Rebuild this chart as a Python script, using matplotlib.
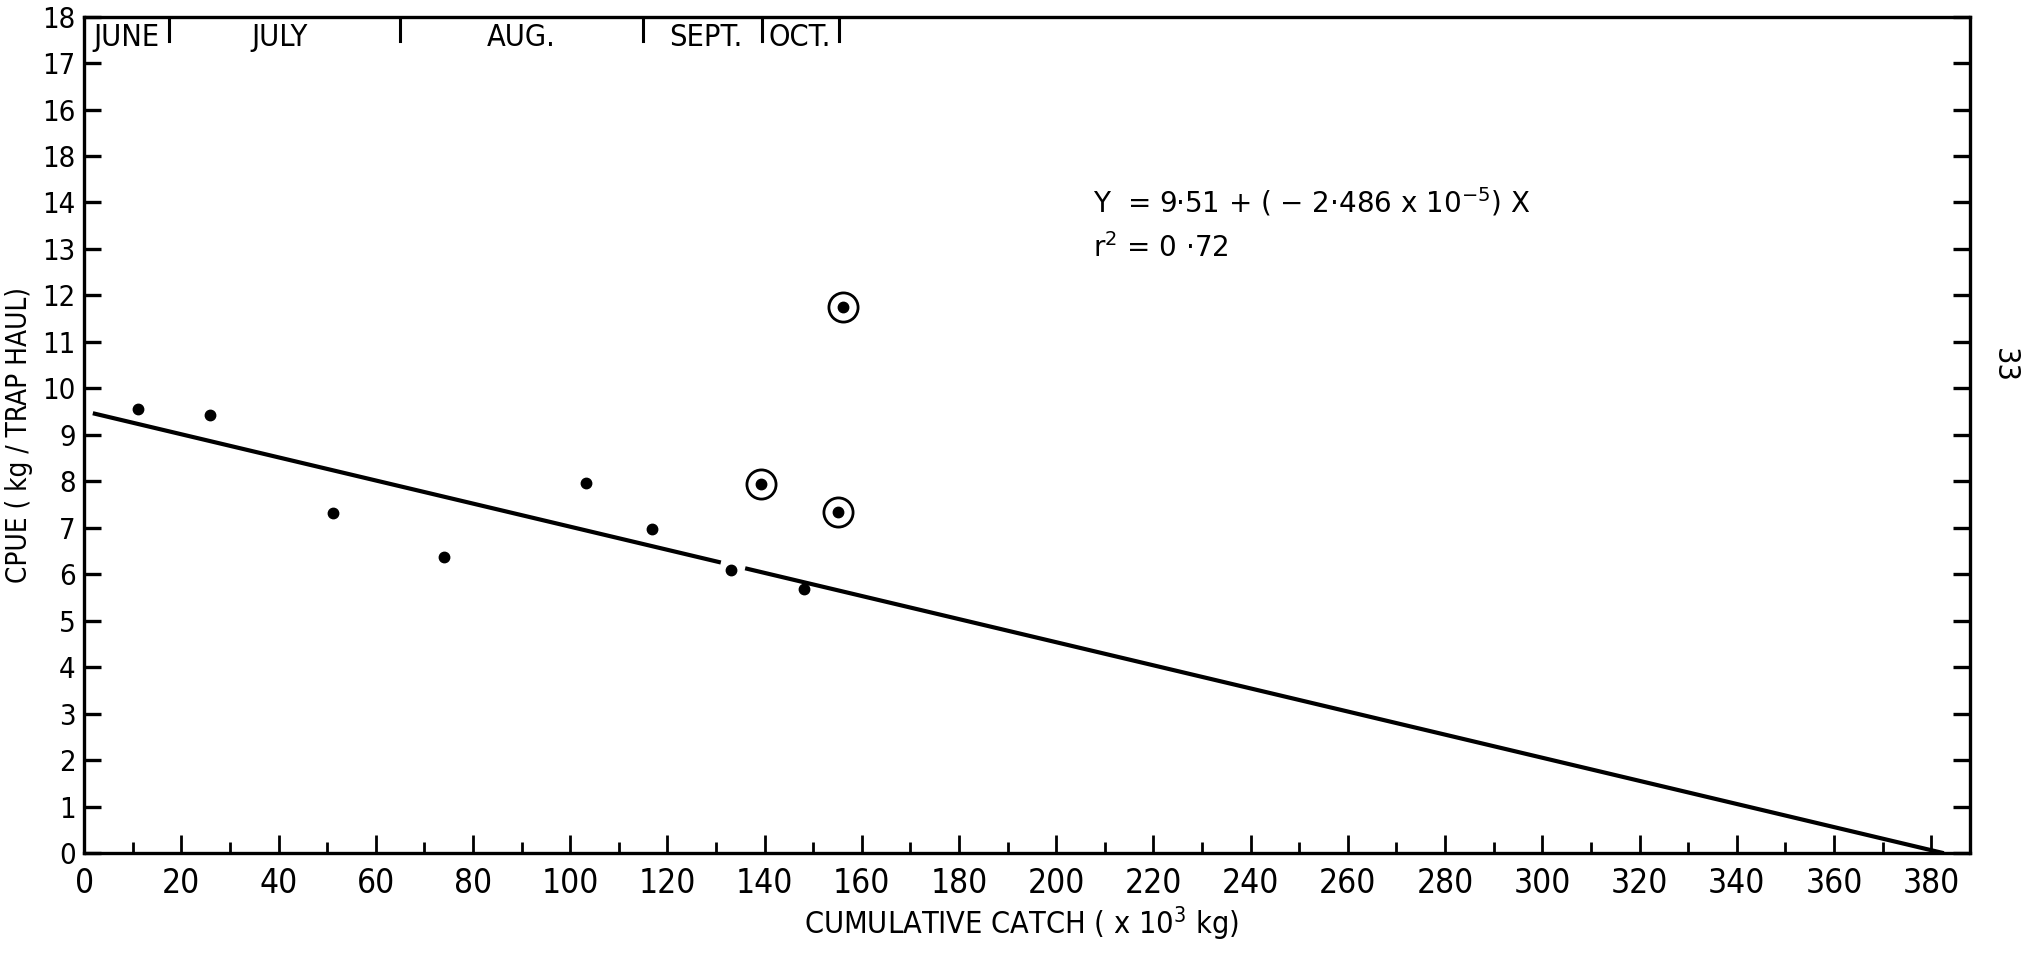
import matplotlib
matplotlib.use("Agg")
import matplotlib.pyplot as plt
from matplotlib import font_manager as fm
import numpy as np

# ---------------- data ----------------
catch_x = [11.1, 25.9, 51.3, 74.0, 103.3, 116.8, 133.0, 148.2]
cpue_y = [9.56, 9.43, 7.31, 6.37, 7.96, 6.98, 6.10, 5.69]
circled_x = [139.2, 155.1, 156.2]
circled_y = [7.95, 7.34, 11.75]

intercept = 9.51
slope_per_1000kg = -2.486e-5 * 1000
line_segments = [(1.8, 131.0), (136.0, 382.6)]

month_names = ["JUNE", "JULY", "AUG.", "SEPT.", "OCT."]
month_label_x = [2.0, 40.3, 90.0, 128.0, 147.3]
month_dividers = [17.5, 65.0, 115.0, 139.5, 155.3]

x_major = list(range(0, 381, 20))
x_minor = list(range(10, 381, 20))
y_ticks = list(range(0, 19))
y_tick_labels = ["0", "1", "2", "3", "4", "5", "6", "7", "8", "9", "10",
                 "11", "12", "13", "14", "18", "16", "17", "18"]

# ---------------- fonts ----------------
def find_condensed():
    best = None
    for f in fm.fontManager.ttflist:
        if f.style != "normal":
            continue
        w = f.weight
        if isinstance(w, str):
            if w not in ("normal", "regular", "book", "medium"):
                continue
        elif not (350 <= w <= 500):
            continue
        cond = (str(f.stretch) in ("condensed", "semi-condensed", "extra-condensed")
                or (isinstance(f.stretch, (int, float)) and f.stretch < 500)
                or "Narrow" in f.name or "Condensed" in f.name)
        if not cond:
            continue
        rank = 3
        if f.name == "DejaVu Sans":
            rank = 0
        elif "Liberation Sans Narrow" in f.name:
            rank = 1
        elif "Roboto" in f.name:
            rank = 2
        if best is None or rank < best[0]:
            best = (rank, f.fname)
    return best[1] if best else None

cond_path = find_condensed()
plt.rcParams['font.family'] = ["DejaVu Sans"]
plt.rcParams['mathtext.default'] = 'regular'

def fp(size):
    if cond_path:
        return fm.FontProperties(fname=cond_path, size=size)
    return fm.FontProperties(family="DejaVu Sans", size=size * 0.85)

fig = plt.figure(figsize=(20.21, 9.75), dpi=100)
ax = fig.add_axes([0.0416, 0.125, 0.9332, 0.858])
ax.set_xlim(0, 388)
ax.set_ylim(0, 18)

# regression line (broken around one point, as drawn)
for x0, x1 in line_segments:
    xs = np.array([x0, x1])
    ax.plot(xs, intercept + slope_per_1000kg * xs, color="black", lw=3.0,
            solid_capstyle="butt")

# points
ax.plot(catch_x, cpue_y, "o", color="black", ms=7.5, ls="none")
ax.plot(circled_x, circled_y, "o", color="black", ms=7.5, ls="none")
ax.plot(circled_x, circled_y, "o", mfc="none", mec="black", mew=2.0, ms=21, ls="none")

# month dividers and labels
for xd in month_dividers:
    ax.plot([xd, xd], [18, 17.47], color="black", lw=2.2)
for name, xl in zip(month_names, month_label_x):
    ax.text(xl, 17.56, name, ha="left" if name == "JUNE" else "center",
            va="center", fontproperties=fp(22))

# spines
for s in ax.spines.values():
    s.set_linewidth(2.4)
    s.set_color("black")

# ticks
ax.set_xticks(x_major)
ax.set_xticklabels([str(v) for v in x_major], fontproperties=fp(24))
ax.set_xticks(x_minor, minor=True)
ax.set_yticks(y_ticks)
ax.set_yticklabels(y_tick_labels, fontproperties=fp(21))
ax.tick_params(axis="x", which="major", direction="in", length=13, width=2.0, pad=10)
ax.tick_params(axis="x", which="minor", direction="in", length=8, width=2.0)
ax.tick_params(axis="y", which="major", direction="in", length=12, width=2.4, pad=6,
               right=True)

ax.set_xlabel(r"CUMULATIVE CATCH ( x 10$^{3}$ kg)", fontproperties=fp(22))
ax.xaxis.set_label_coords(0.497, -0.062)
ax.set_ylabel("CPUE ( kg / TRAP HAUL)", fontproperties=fp(20))
ax.yaxis.set_label_coords(-0.027, 0.5)

# equation
ax.text(207.5, 14.0, r"Y  = 9·51 + ( $-$ 2·486 x 10$^{-5}$) X", fontsize=20,
        ha="left", va="center", family="DejaVu Sans")
ax.text(207.5, 13.03, r"r$^{2}$ = 0 ·72", fontsize=20, ha="left", va="center",
        family="DejaVu Sans")

# page number
fig.text(0.992, 0.625, "33", rotation=-90, fontproperties=fp(22), ha="center", va="center")

fig.savefig("out.png", dpi=100, facecolor="white")
